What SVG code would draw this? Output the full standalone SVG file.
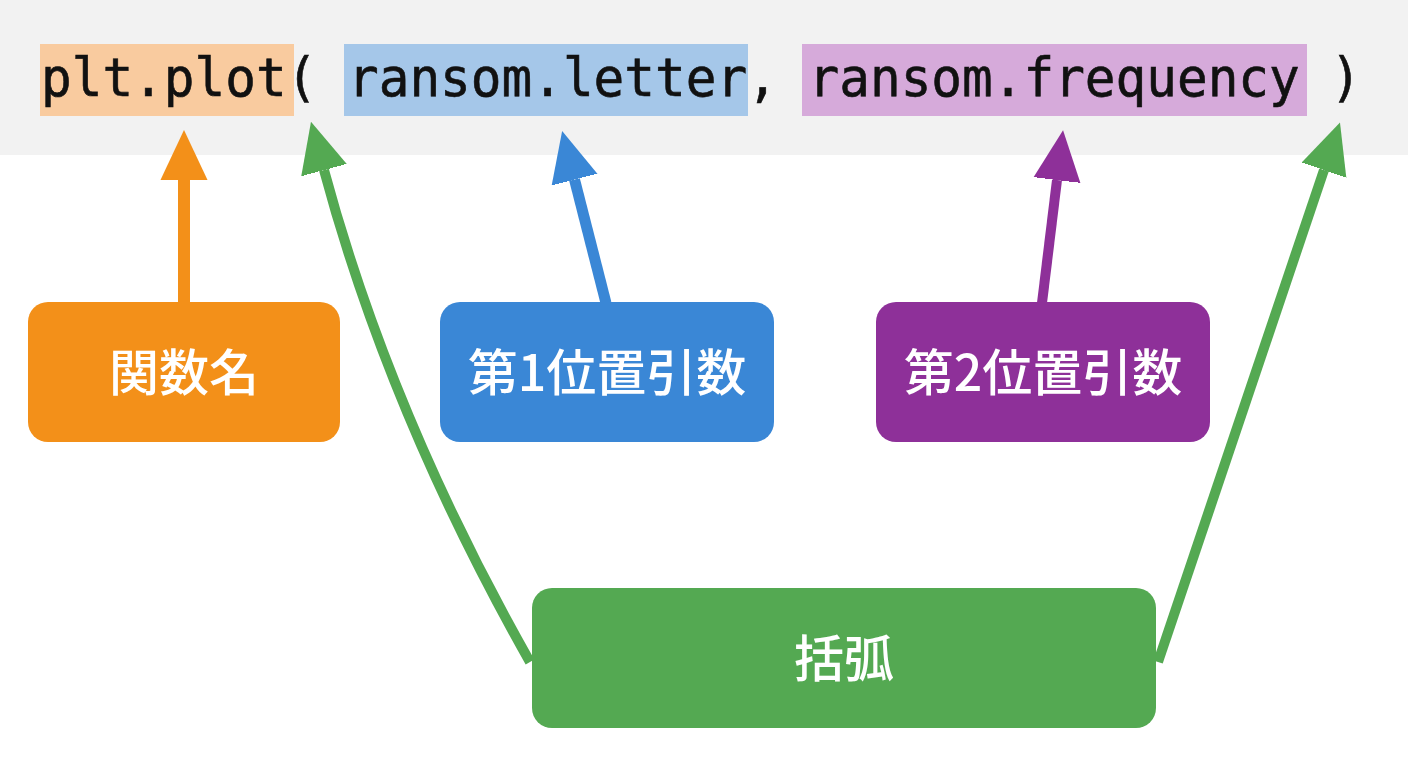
<svg xmlns="http://www.w3.org/2000/svg" width="1408" height="768" viewBox="0 0 1408 768">
  <style>
    .code { font-family: "DejaVu Sans Mono", "Liberation Mono", monospace; font-size: 51px; fill: #111111; stroke: #111111; stroke-width: 0.6px; }
    .label { font-family: "Noto Sans CJK JP", "Noto Sans", sans-serif; font-size: 50px; font-weight: 500; fill: #ffffff; text-anchor: middle; }
    .shaft { fill: none; stroke-linecap: butt; }
  </style>
  <defs>
    <marker id="hOrange" viewBox="0 -25 50 50" refX="0" refY="0" markerWidth="50" markerHeight="50" markerUnits="userSpaceOnUse" orient="auto">
      <path d="M-1,-24 L50,0 L-1,24 Z" fill="#F39019"/>
    </marker>
    <marker id="hBlue" viewBox="0 -25 50 50" refX="0" refY="0" markerWidth="50" markerHeight="50" markerUnits="userSpaceOnUse" orient="auto">
      <path d="M-1,-24 L50,0 L-1,24 Z" fill="#3A87D6"/>
    </marker>
    <marker id="hPurple" viewBox="0 -25 50 50" refX="0" refY="0" markerWidth="50" markerHeight="50" markerUnits="userSpaceOnUse" orient="auto">
      <path d="M-1,-24 L50,0 L-1,24 Z" fill="#8E3099"/>
    </marker>
    <marker id="hGreen" viewBox="0 -25 50 50" refX="0" refY="0" markerWidth="50" markerHeight="50" markerUnits="userSpaceOnUse" orient="auto">
      <path d="M-1,-24 L50,0 L-1,24 Z" fill="#54A952"/>
    </marker>
  </defs>

  <rect x="0" y="0" width="1408" height="768" fill="#ffffff"/>

  <g id="code-line">
    <rect x="0" y="0" width="1408" height="155" fill="#F2F2F2"/>
    <rect x="40" y="44" width="254" height="72" fill="#F9CB9F"/>
    <rect x="344" y="44" width="404" height="72" fill="#A5C7E9"/>
    <rect x="802" y="44" width="505" height="72" fill="#D6AADA"/>
    <text class="code" x="41" y="0" transform="translate(0,96) scale(1,1.06)">plt.plot( ransom.letter, ransom.frequency )</text>
  </g>

  <g id="connectors">
    <path class="shaft" d="M184,303 L184,180" stroke="#F39019" stroke-width="12" marker-end="url(#hOrange)"/>
    <path class="shaft" d="M606,303 L574.5,179.5" stroke="#3A87D6" stroke-width="11" marker-end="url(#hBlue)"/>
    <path class="shaft" d="M1042,303 L1057,180" stroke="#8E3099" stroke-width="10" marker-end="url(#hPurple)"/>
    <path class="shaft" d="M530,662 Q390,415 324,170" stroke="#54A952" stroke-width="10" marker-end="url(#hGreen)"/>
    <path class="shaft" d="M1158,662 L1324,170" stroke="#54A952" stroke-width="10" marker-end="url(#hGreen)"/>
  </g>

  <g id="node-function-name">
    <rect x="28" y="302" width="312" height="140" rx="20" fill="#F39019"/>
    <text class="label" x="184" y="391">関数名</text>
  </g>

  <g id="node-arg1">
    <rect x="440" y="302" width="334" height="140" rx="20" fill="#3A87D6"/>
    <text class="label" x="607" y="391">第1位置引数</text>
  </g>

  <g id="node-arg2">
    <rect x="876" y="302" width="334" height="140" rx="20" fill="#8E3099"/>
    <text class="label" x="1043" y="391">第2位置引数</text>
  </g>

  <g id="node-parens">
    <rect x="532" y="588" width="624" height="140" rx="20" fill="#54A952"/>
    <text class="label" x="844" y="677">括弧</text>
  </g>
</svg>
